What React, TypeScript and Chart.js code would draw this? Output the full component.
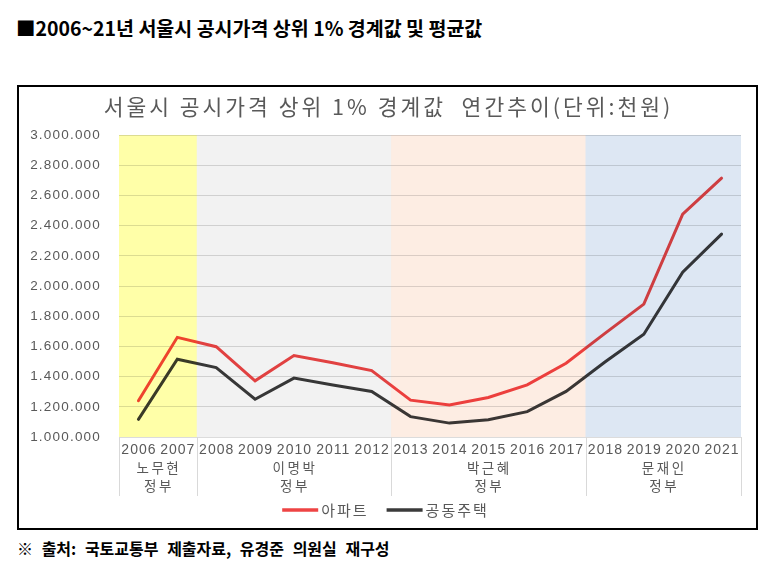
import React, { useEffect, useRef } from "react";
import { Chart, registerables } from "chart.js";

Chart.register(...registerables);

// ---- data ----
const years = ["2006", "2007", "2008", "2009", "2010", "2011", "2012", "2013", "2014", "2015", "2016", "2017", "2018", "2019", "2020", "2021"];
const apartment = [1240000, 1660000, 1598000, 1372000, 1540000, 1492000, 1440000, 1244000, 1212000, 1262000, 1345000, 1488000, 1686000, 1880000, 2476000, 2714000];
const multiHousing = [1117000, 1515000, 1460000, 1250000, 1390000, 1345000, 1302000, 1135000, 1092000, 1114000, 1168000, 1302000, 1497000, 1680000, 2092000, 2344000];
const seriesNames = ["아파트", "공동주택"];
const govNames = ["노무현", "이명박", "박근혜", "문재인"];
const govSuffix = "정부";
const govStart = [0, 2, 7, 12];
const govEnd = [2, 7, 12, 16];
const yMin = 1000000;
const yMax = 3000000;
const yStep = 200000;

const chartTitle = "서울시 공시가격 상위 1% 경계값  연간추이(단위:천원)";
const pageTitle = "■2006~21년 서울시 공시가격 상위 1% 경계값 및 평균값";
const sourceNote = "※ 출처: 국토교통부 제출자료, 유경준 의원실 재구성";

// ---- styles ----
const KR = '"Noto Sans CJK KR", "Noto Sans", sans-serif';
const NUM = '"Liberation Sans", Arial, sans-serif';
const bandColors = ["#ffffa8", "#f2f2f2", "#fdede3", "#dde7f3"];
const lineColors = ["#ee4444", "#3a3a3a"];
const textGray = "#595959";

const formatDots = (v: number) => String(Math.round(v)).replace(/\B(?=(\d{3})+(?!\d))/g, ".");

const overlayPlugin = {
  id: "overlay",
  beforeDraw(chart: any) {
    const { ctx, width, height } = chart;
    ctx.save();
    ctx.fillStyle = "#ffffff";
    ctx.fillRect(0, 0, width, height);
    ctx.restore();
    (ctx as any).letterSpacing = "1.2px";
  },
  afterDatasetsDraw(chart: any) {
    const { ctx, chartArea: a, scales } = chart;
    const x = scales.x;
    const cw = (x.right - x.left) / years.length;
    ctx.save();
    ctx.globalCompositeOperation = "multiply";
    govStart.forEach((s, i) => {
      const l = x.getPixelForValue(s) - cw / 2;
      const r = x.getPixelForValue(govEnd[i] - 1) + cw / 2;
      ctx.fillStyle = bandColors[i];
      ctx.fillRect(l, a.top, r - l, a.bottom - a.top);
    });
    ctx.restore();
  },
  afterDraw(chart: any) {
    const { ctx, chartArea: a, scales, width } = chart;
    const x = scales.x;
    const cw = (x.right - x.left) / years.length;
    ctx.save();

    // chart title
    (ctx as any).letterSpacing = "3px";
    ctx.fillStyle = textGray;
    ctx.font = `400 21.5px ${KR}`;
    ctx.textAlign = "center";
    ctx.textBaseline = "middle";
    ctx.fillText(chartTitle, width / 2 + 1, 20);

    // x-axis table
    ctx.strokeStyle = "#d9d9d9";
    ctx.lineWidth = 1;
    const bounds = [govStart[0], ...govEnd];
    bounds.forEach((b) => {
      const px = b < years.length ? x.getPixelForValue(b) - cw / 2 : x.getPixelForValue(years.length - 1) + cw / 2;
      const xx = Math.round(px) + 0.5;
      ctx.beginPath();
      ctx.moveTo(xx, a.bottom);
      ctx.lineTo(xx, a.bottom + 59);
      ctx.stroke();
    });
    (ctx as any).letterSpacing = "1px";
    ctx.font = `400 14px ${NUM}`;
    years.forEach((yr, i) => {
      ctx.fillText(yr, x.getPixelForValue(i) + 0.5, a.bottom + 13.5);
    });
    (ctx as any).letterSpacing = "2.5px";
    ctx.font = `400 13.5px ${KR}`;
    govNames.forEach((g, i) => {
      const cx = (x.getPixelForValue(govStart[i]) + x.getPixelForValue(govEnd[i] - 1)) / 2 + 1;
      ctx.fillText(g, cx, a.bottom + 30.5);
      ctx.fillText(govSuffix, cx, a.bottom + 48.5);
    });

    // legend
    (ctx as any).letterSpacing = "2px";
    ctx.font = `400 15px ${KR}`;
    ctx.textAlign = "left";
    const lineLen = 36;
    const gap = 3;
    const itemGap = 18;
    const widths = chart.data.datasets.map((d: any) => lineLen + gap + ctx.measureText(d.label).width);
    const total = widths.reduce((s: number, w: number) => s + w, 0) + itemGap * (widths.length - 1);
    let lx = width / 2 - total / 2 - 2;
    const ly = a.bottom + 73;
    chart.data.datasets.forEach((d: any, i: number) => {
      ctx.strokeStyle = d.borderColor;
      ctx.lineWidth = 3.5;
      ctx.beginPath();
      ctx.moveTo(lx, ly);
      ctx.lineTo(lx + lineLen, ly);
      ctx.stroke();
      ctx.fillStyle = textGray;
      ctx.fillText(d.label, lx + lineLen + gap, ly);
      lx += widths[i] + itemGap;
    });
    ctx.restore();
    (ctx as any).letterSpacing = "0px";
  },
};

function LineChart() {
  const ref = useRef<HTMLCanvasElement | null>(null);
  useEffect(() => {
    if (!ref.current) return;
    const chart = new Chart(ref.current, {
      type: "line",
      data: {
        labels: years,
        datasets: [
          {
            label: seriesNames[0],
            data: apartment,
            borderColor: lineColors[0],
            backgroundColor: lineColors[0],
            borderWidth: 3,
            pointRadius: 0,
            tension: 0,
            borderCapStyle: "round",
          },
          {
            label: seriesNames[1],
            data: multiHousing,
            borderColor: lineColors[1],
            backgroundColor: lineColors[1],
            borderWidth: 3,
            pointRadius: 0,
            tension: 0,
            borderCapStyle: "round",
          },
        ],
      },
      options: {
        animation: false,
        responsive: false,
        layout: { padding: { top: 48, right: 15, bottom: 31, left: 0 } },
        plugins: {
          legend: { display: false },
          title: { display: false },
          tooltip: { enabled: false },
        },
        scales: {
          x: {
            offset: true,
            grid: { display: false },
            border: { display: false },
            ticks: { display: false },
            afterFit: (s: any) => {
              s.height = 60;
            },
          },
          y: {
            min: yMin,
            max: yMax,
            border: { display: false },
            grid: { color: "#dcdcdc", lineWidth: 1, drawTicks: false },
            ticks: {
              stepSize: yStep,
              padding: 18,
              color: textGray,
              font: { family: NUM, size: 13.5 },
              callback: (v: any) => formatDots(Number(v)),
            },
            afterFit: (s: any) => {
              s.width = 100;
            },
          },
        },
      },
      plugins: [overlayPlugin],
    } as any);
    return () => chart.destroy();
  }, []);
  return <canvas ref={ref} width={737} height={441} style={{ display: "block", width: 737, height: 441 }} />;
}

export default function App() {
  return (
    <div style={{ position: "absolute", left: 0, top: 0, width: 783, height: 572, background: "#fff", fontFamily: KR, color: "#000" }}>
      <div style={{ position: "absolute", left: 16, top: 15, fontSize: 19.5, fontWeight: 700, lineHeight: "25px", whiteSpace: "nowrap" }}>{pageTitle}</div>
      <div style={{ position: "absolute", left: 17, top: 85, width: 741, height: 445, border: "2px solid #000", boxSizing: "border-box" }}>
        <LineChart />
      </div>
      <div style={{ position: "absolute", left: 17, top: 538, fontSize: 16, fontWeight: 700, lineHeight: "21px", wordSpacing: "5px", whiteSpace: "nowrap" }}>{sourceNote}</div>
    </div>
  );
}
